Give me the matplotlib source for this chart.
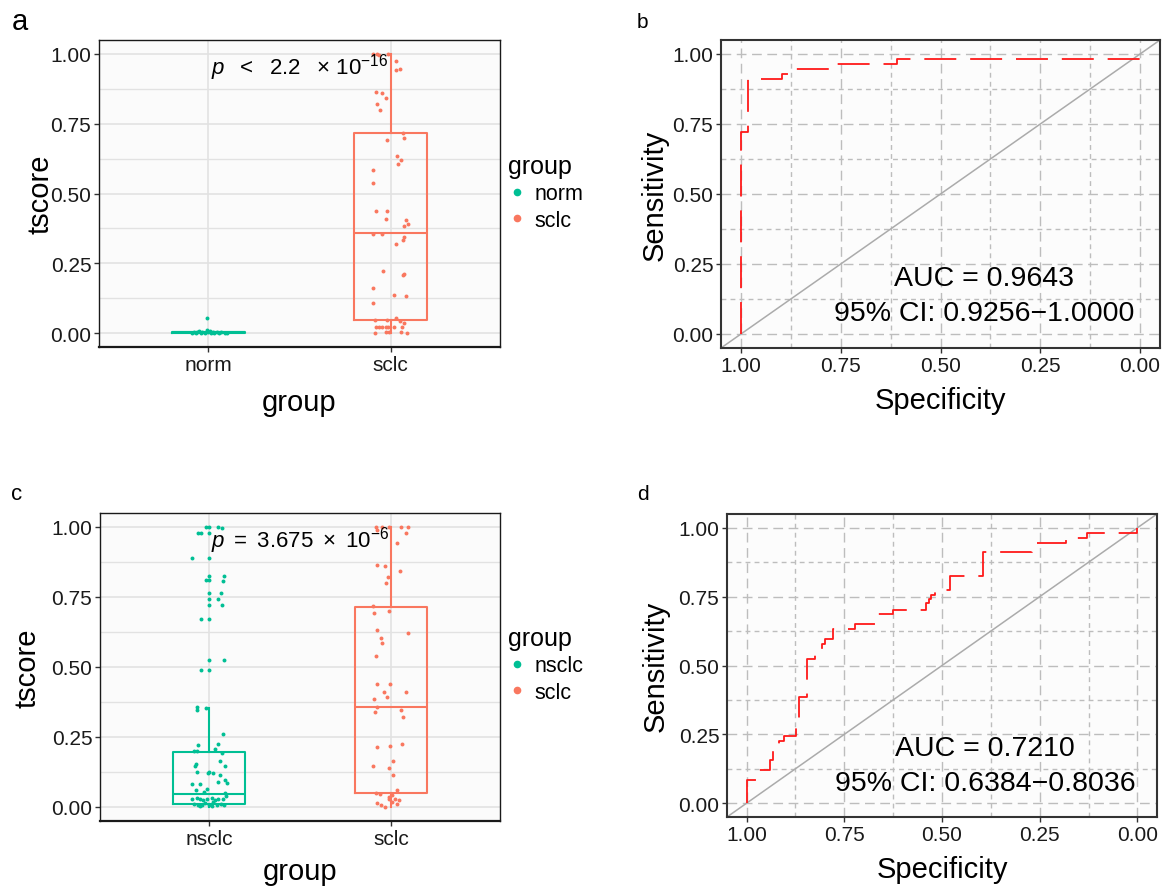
import numpy as np
import matplotlib
matplotlib.use("Agg")
import matplotlib.pyplot as plt
from matplotlib.ticker import MultipleLocator
from matplotlib.lines import Line2D

plt.rcParams['font.family'] = ['Liberation Sans', 'DejaVu Sans']
plt.rcParams['mathtext.fontset'] = 'custom'
plt.rcParams['mathtext.rm'] = 'Liberation Sans'
plt.rcParams['mathtext.it'] = 'Liberation Sans:italic'
plt.rcParams['lines.scale_dashes'] = False

TEAL = '#00BF94'
SALMON = '#F9775F'

# ---- panel a: norm vs sclc (jittered points) ----
a_groups = ['norm', 'sclc']
a_norm_y = [0.000, 0.005, 0.002, 0.008, 0.005, 0.000, 0.012, 0.002, 0.006, 0.002,
            0.000, 0.005, 0.000, 0.002, 0.000, 0.000, 0.000, 0.000, 0.000, 0.054]
a_norm_dx = [-0.092, -0.078, -0.060, -0.049, -0.035, -0.020, -0.009, -0.002, 0.009, 0.024,
             0.031, 0.045, 0.058, 0.071, 0.089, 0.100, -0.069, -0.042, 0.016, -0.005]
a_sclc_y = [1.00, 1.00, 0.996, 1.00, 0.976, 0.945, 0.943, 0.863, 0.860, 0.843,
            0.821, 0.800, 0.715, 0.693, 0.700, 0.633, 0.621, 0.604, 0.585, 0.537,
            0.436, 0.436, 0.408, 0.405, 0.392, 0.385, 0.355, 0.355, 0.343, 0.335,
            0.319, 0.221, 0.211, 0.207, 0.162, 0.138, 0.133, 0.107, 0.055, 0.048,
            0.044, 0.036, 0.046, 0.023, 0.023, 0.023, 0.023, 0.020, 0.023, 0.023,
            0.000, 0.005, 0.005, 0.002, 0.000]
a_sclc_dx = [-0.096, -0.076, -0.063, -0.016, 0.027, 0.054, 0.029, -0.078, -0.045, -0.027,
             -0.074, -0.060, 0.069, -0.018, 0.072, 0.036, 0.058, 0.042, -0.098, -0.098,
             -0.083, -0.020, -0.027, 0.082, 0.094, 0.074, -0.098, -0.045, 0.072, 0.067,
             0.029, -0.042, 0.071, 0.069, -0.098, 0.018, 0.082, -0.098, 0.027, -0.018,
             0.054, 0.076, -0.085, -0.078, -0.063, -0.049, -0.024, -0.013, 0.063, 0.018,
             -0.085, -0.024, -0.011, 0.056, 0.091]
# box stats: whisker low, q1, median, q3, whisker high
a_box_lo = [0.0, 0.0]
a_box_q1 = [0.0, 0.047]
a_box_med = [0.002, 0.357]
a_box_q3 = [0.005, 0.715]
a_box_hi = [0.008, 1.0]
a_ptext = r'$p\ \ <\ \ 2.2\ \ \times\, 10^{-16}$'

# ---- panel c: nsclc vs sclc ----
c_groups = ['nsclc', 'sclc']
c_nsclc_y = [1.000, 1.000, 0.999, 0.996, 0.977, 0.977, 0.977, 0.891, 0.891, 0.826,
             0.826, 0.810, 0.810, 0.808, 0.763, 0.763, 0.744, 0.743, 0.721, 0.721,
             0.673, 0.673, 0.524, 0.524, 0.488, 0.488, 0.358, 0.355, 0.348, 0.259,
             0.223, 0.225, 0.208, 0.200, 0.200, 0.192, 0.153, 0.145, 0.148, 0.163,
             0.125, 0.122, 0.125, 0.120, 0.113, 0.091, 0.095, 0.087, 0.081, 0.083,
             0.065, 0.062, 0.053, 0.051, 0.030, 0.033, 0.030, 0.024, 0.030, 0.032,
             0.024, 0.027, 0.030, 0.039, 0.012, 0.008, 0.008, 0.015, 0.008, 0.018,
             0.008, 0.012, 0.006, 0.004, 0.004]
c_nsclc_dx = [-0.016, 0.000, 0.051, 0.071, -0.060, -0.043, 0.002, -0.092, 0.000, 0.002,
              0.082, -0.016, 0.000, 0.078, 0.002, 0.067, 0.002, 0.051, 0.000, 0.071,
              -0.047, 0.000, 0.002, 0.080, -0.045, 0.002, -0.065, -0.018, -0.067, 0.074,
              -0.063, 0.051, 0.034, -0.082, -0.067, 0.071, -0.074, -0.080, 0.087, 0.060,
              -0.069, -0.007, 0.000, 0.024, 0.060, 0.051, 0.087, 0.096, -0.096, -0.049,
              -0.009, -0.071, -0.027, 0.089, -0.092, -0.067, -0.049, -0.031, -0.013, 0.014,
              0.033, 0.051, 0.078, 0.092, -0.085, -0.063, -0.040, -0.022, 0.002, 0.024,
              0.042, 0.063, 0.082, -0.049, 0.014]
c_sclc_y = [1.000, 1.000, 1.000, 1.000, 1.000, 0.990, 0.977, 0.943, 0.864, 0.859,
            0.843, 0.822, 0.801, 0.717, 0.694, 0.701, 0.633, 0.605, 0.586, 0.623,
            0.540, 0.438, 0.439, 0.409, 0.412, 0.393, 0.387, 0.358, 0.346, 0.338,
            0.323, 0.214, 0.217, 0.225, 0.166, 0.145, 0.138, 0.113, 0.049, 0.046,
            0.062, 0.042, 0.027, 0.027, 0.026, 0.018, 0.015, 0.006, 0.001, 0.012, 0.036]
c_sclc_dx = [-0.080, -0.051, -0.011, 0.053, 0.094, -0.074, 0.083, 0.031, -0.076, -0.033,
             0.051, -0.018, -0.025, -0.101, -0.092, -0.011, -0.074, -0.054, -0.051, 0.092,
             -0.083, -0.076, -0.004, -0.036, 0.082, -0.024, -0.091, -0.076, 0.056, -0.087,
             0.069, -0.076, -0.004, 0.060, 0.009, -0.100, -0.011, 0.014, -0.083, -0.062,
             0.031, 0.005, -0.011, 0.025, 0.047, 0.007, -0.074, -0.056, -0.034, 0.031, -0.011]
c_box_lo = [0.0, 0.0]
c_box_q1 = [0.012, 0.051]
c_box_med = [0.045, 0.358]
c_box_q3 = [0.198, 0.716]
c_box_hi = [0.355, 1.0]
c_ptext = r'$p\ =\ 3.675\ \times\ 10^{-6}$'

# ---- ROC curves (specificity, sensitivity vertices) ----
b_spec = [1.000, 1.000, 0.982, 0.982, 0.897, 0.897, 0.882, 0.882, 0.762, 0.762,
          0.609, 0.609, 0.000, 0.000]
b_sens = [0.000, 0.721, 0.721, 0.911, 0.911, 0.930, 0.930, 0.947, 0.947, 0.966,
          0.966, 0.982, 0.982, 1.000]
b_auc = 'AUC = 0.9643'
b_ci = '95% CI: 0.9256\u22121.0000'

d_spec = [1.000, 1.000, 0.971, 0.971, 0.941, 0.941, 0.933, 0.933, 0.916, 0.916,
          0.903, 0.903, 0.874, 0.874, 0.866, 0.866, 0.846, 0.846, 0.826, 0.826,
          0.808, 0.808, 0.799, 0.799, 0.778, 0.778, 0.722, 0.722, 0.671, 0.671,
          0.626, 0.626, 0.540, 0.540, 0.534, 0.534, 0.527, 0.527, 0.519, 0.519,
          0.480, 0.480, 0.396, 0.396, 0.270, 0.270, 0.261, 0.261, 0.183, 0.183,
          0.128, 0.128, 0.000, 0.000]
d_sens = [0.000, 0.086, 0.086, 0.121, 0.121, 0.157, 0.157, 0.194, 0.194, 0.227,
          0.227, 0.245, 0.245, 0.306, 0.306, 0.386, 0.386, 0.525, 0.525, 0.545,
          0.545, 0.577, 0.577, 0.595, 0.595, 0.632, 0.632, 0.650, 0.650, 0.686,
          0.686, 0.702, 0.702, 0.726, 0.726, 0.740, 0.740, 0.756, 0.756, 0.773,
          0.773, 0.824, 0.824, 0.912, 0.912, 0.928, 0.928, 0.946, 0.946, 0.964,
          0.964, 0.982, 0.982, 1.000]
d_auc = 'AUC = 0.7210'
d_ci = '95% CI: 0.6384\u22120.8036'

W, H = 1166, 887
fig = plt.figure(figsize=(W / 100, H / 100), dpi=100)


def px_axes(l, t, r, b):
    return fig.add_axes([l / W, 1 - b / H, (r - l) / W, (b - t) / H])


def box_panel(ax, groups, ys, dxs, lo, q1, med, q3, hi, ptext, ylab_x, xlab_y):
    ax.set_facecolor('#FBFBFB')
    colors = [TEAL, SALMON]
    for i in range(2):
        st = dict(whislo=lo[i], q1=q1[i], med=med[i], q3=q3[i], whishi=hi[i])
        ax.bxp([st], positions=[i + 1], widths=0.4, showfliers=False, showcaps=False,
               manage_ticks=False,
               boxprops=dict(color=colors[i], lw=1.5),
               medianprops=dict(color=colors[i], lw=1.5),
               whiskerprops=dict(color=colors[i], lw=1.5))
        x = i + 1 + np.array(dxs[i])
        ax.scatter(x, ys[i], s=8, color=colors[i], lw=0, zorder=3)
    ax.set_xlim(0.4, 2.6)
    ax.set_ylim(-0.05, 1.05)
    ax.set_xticks([1, 2])
    ax.set_xticklabels(groups)
    ax.set_yticks([0, 0.25, 0.5, 0.75, 1.0])
    ax.set_yticklabels(['0.00', '0.25', '0.50', '0.75', '1.00'])
    ax.yaxis.set_minor_locator(MultipleLocator(0.125))
    ax.tick_params(which='minor', length=0)
    ax.tick_params(which='major', length=3.5, width=1, color='#333333', labelsize=15,
                   labelcolor='#1a1a1a', pad=2)
    ax.grid(which='major', color='#E2E2E2', lw=1.2)
    ax.grid(which='minor', axis='y', color='#E2E2E2', lw=1.0)
    ax.set_axisbelow(True)
    for s in ax.spines.values():
        s.set_color('#1a1a1a')
        s.set_linewidth(1.0)
    ax.spines['bottom'].set_linewidth(1.6)
    ax.text(1.5, 0.955, ptext, ha='center', va='center', fontsize=16, zorder=4)
    ax.set_xlabel('group', fontsize=21)
    ax.set_ylabel('tscore', fontsize=21)
    ax.xaxis.set_label_coords(0.5, xlab_y)
    ax.yaxis.set_label_coords(ylab_x, 0.5)
    ax.xaxis.label.set_va('center')
    ax.yaxis.label.set_va('center')


def roc_panel(ax, spec, sens, auc, ci, ylab_x, xlab_y):
    ax.set_facecolor('#FCFCFC')
    ax.set_xlim(1.05, -0.05)
    ax.set_ylim(-0.05, 1.05)
    ticks = [0, 0.25, 0.5, 0.75, 1.0]
    labs = ['0.00', '0.25', '0.50', '0.75', '1.00']
    ax.set_xticks(ticks)
    ax.set_xticklabels(labs)
    ax.set_yticks(ticks)
    ax.set_yticklabels(labs)
    ax.xaxis.set_minor_locator(MultipleLocator(0.125))
    ax.yaxis.set_minor_locator(MultipleLocator(0.125))
    ax.tick_params(which='minor', length=0)
    ax.tick_params(which='major', length=3.5, width=1, color='#333333', labelsize=15,
                   labelcolor='#1a1a1a', pad=2)
    ax.grid(which='major', color='#BDBDBD', lw=1.0, dashes=(7, 4))
    ax.grid(which='minor', color='#BDBDBD', lw=1.0, dashes=(3.5, 3))
    ax.set_axisbelow(True)
    ax.axline((1, 0), (0, 1), color='#ABABAB', lw=1.1, zorder=2)
    ax.plot(spec, sens, color='#FF1A1A', lw=1.3, dashes=(23, 10), zorder=3)
    ax.text(0.39, 0.2, auc, ha='center', va='center', fontsize=20.5)
    ax.text(0.39, 0.075, ci, ha='center', va='center', fontsize=20.5)
    for s in ax.spines.values():
        s.set_color('#333333')
        s.set_linewidth(1.5)
    ax.set_xlabel('Specificity', fontsize=21)
    ax.set_ylabel('Sensitivity', fontsize=21)
    ax.xaxis.set_label_coords(0.5, xlab_y)
    ax.yaxis.set_label_coords(ylab_x, 0.5)
    ax.xaxis.label.set_va('center')
    ax.yaxis.label.set_va('center')


ax_a = px_axes(99, 41, 500, 348)
box_panel(ax_a, a_groups, [a_norm_y, a_sclc_y], [a_norm_dx, a_sclc_dx],
          a_box_lo, a_box_q1, a_box_med, a_box_q3, a_box_hi, a_ptext, -0.147, -0.179)

ax_c = px_axes(100, 514, 500, 822)
box_panel(ax_c, c_groups, [c_nsclc_y, c_sclc_y], [c_nsclc_dx, c_sclc_dx],
          c_box_lo, c_box_q1, c_box_med, c_box_q3, c_box_hi, c_ptext, -0.18, -0.162)

ax_b = px_axes(721, 41, 1160, 349)
roc_panel(ax_b, b_spec, b_sens, b_auc, b_ci, -0.15, -0.169)

ax_d = px_axes(727, 515, 1157, 818)
roc_panel(ax_d, d_spec, d_sens, d_auc, d_ci, -0.167, -0.172)

# legends
for ax, groups, ytop in [(ax_a, a_groups, 155), (ax_c, c_groups, 627)]:
    handles = [Line2D([], [], ls='none', marker='o', ms=4.5, color=c) for c in [TEAL, SALMON]]
    ax.legend(handles, groups, title='group', loc='upper left',
              bbox_to_anchor=(508 / W, 1 - ytop / H), bbox_transform=fig.transFigure,
              frameon=False, fontsize=15.5, title_fontsize=18, handlelength=0.8,
              handletextpad=0.45, labelspacing=0.25, borderpad=0, borderaxespad=0,
              alignment='left')

# panel letters
fig.text(12 / W, 1 - 22 / H, 'a', fontsize=21, va='center', ha='left')
fig.text(637 / W, 1 - 22 / H, 'b', fontsize=15, va='center', ha='left')
fig.text(11 / W, 1 - 495 / H, 'c', fontsize=16, va='center', ha='left')
fig.text(637 / W, 1 - 495 / H, 'd', fontsize=15, va='center', ha='left')

fig.savefig('out.png', dpi=100)
